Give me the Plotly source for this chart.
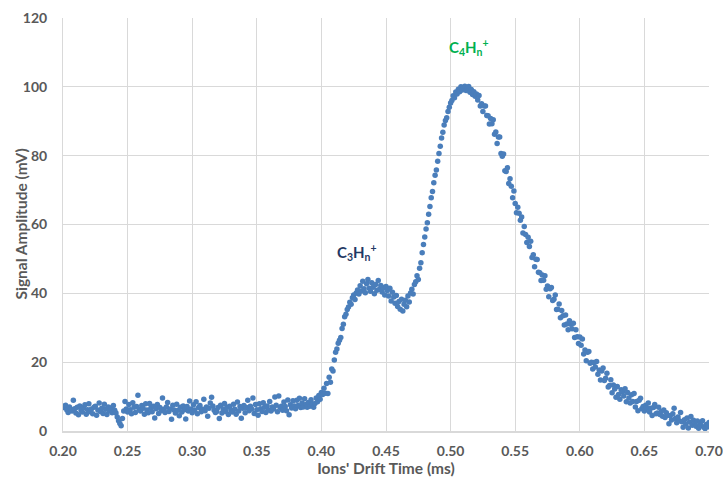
import numpy as np
import plotly.graph_objects as go

# Sampling grid (ms)
T_START = 0.200
T_STEP = 0.001

# Signal amplitude (mV) at 0.200, 0.201, ... 0.700 ms
signal_mv = [
    7.2, 6.8, 7.5, 6.1, 5.4, 7.0, 6.3, 5.8, 8.9, 6.5,
    5.2, 6.9, 4.7, 7.3, 6.0, 5.5, 6.8, 7.6, 4.9, 6.2,
    7.9, 5.6, 6.4, 5.0, 6.9, 7.2, 4.6, 6.1, 8.1, 5.7,
    6.6, 5.1, 7.8, 6.3, 4.8, 7.0, 5.9, 6.7, 5.3, 7.4,
    6.0, 5.2, 4.1, 3.0, 2.2, 1.5, 3.6, 5.8, 8.6, 6.4,
    5.5, 7.7, 6.2, 5.0, 8.2, 6.9, 5.4, 7.1, 10.4, 6.3,
    5.8, 7.4, 6.6, 4.9, 7.9, 6.1, 5.3, 8.0, 6.7, 5.6,
    7.2, 3.8, 6.5, 7.7, 5.1, 6.8, 5.9, 9.6, 6.3, 5.4,
    7.0, 8.3, 5.7, 6.4, 3.4, 7.5, 6.1, 5.2, 7.8, 6.0,
    4.4, 6.9, 5.5, 7.3, 6.2, 3.5, 7.1, 5.8, 8.7, 6.4,
    5.3, 7.6, 6.1, 8.5, 5.0, 6.8, 7.4, 5.6, 6.3, 9.2,
    5.9, 7.0, 4.3, 6.6, 8.1, 9.8, 7.3, 6.0, 5.4, 5.7,
    6.8, 3.6, 7.5, 5.2, 6.4, 8.0, 5.7, 6.9, 4.8, 7.2,
    6.1, 5.5, 7.8, 6.3, 4.9, 8.4, 5.8, 7.1, 3.7, 6.6,
    7.4, 5.3, 6.8, 8.9, 5.9, 7.2, 6.4, 9.6, 5.1, 7.7,
    6.2, 4.6, 7.9, 6.5, 5.7, 8.2, 6.9, 5.4, 7.3, 6.1,
    8.6, 5.8, 7.0, 6.4, 9.9, 7.5, 5.6, 10.2, 6.8, 7.2,
    6.0, 8.4, 7.1, 5.9, 9.0, 4.7, 7.6, 6.7, 8.8, 7.3,
    6.5, 8.9, 7.4, 9.5, 6.8, 8.1, 7.0, 9.4, 7.7, 6.9,
    8.3, 7.2, 9.1, 7.8, 6.9, 8.0, 9.6, 8.5, 10.3, 9.2,
    11.2, 10.6, 12.4, 11.0, 13.8, 10.9, 15.6, 14.2, 18.0, 17.4,
    20.6, 22.9, 23.8, 25.5, 26.4, 27.2, 29.8, 31.0, 33.2, 33.9,
    35.3, 36.0, 37.4, 36.8, 38.7, 39.5, 38.2, 40.1, 41.0, 39.8,
    42.2, 40.7, 43.5, 41.3, 40.2, 42.8, 44.0, 41.5, 40.6, 43.1,
    41.8, 39.9, 42.6, 40.9, 43.7, 41.2, 42.3, 40.4, 41.6, 39.5,
    42.0, 40.8, 39.2, 41.5, 37.8, 40.3, 38.9, 37.1, 39.4, 36.2,
    37.6, 35.4, 38.3, 34.9, 36.8, 38.0, 36.1, 39.2, 37.5, 40.1,
    41.2, 39.8, 42.6, 43.4, 45.1, 44.0, 47.3, 48.9, 51.8, 54.2,
    56.4, 58.7, 60.5, 63.0, 65.2, 67.8, 69.6, 72.1, 74.3, 75.8,
    78.4, 80.6, 82.7, 85.1, 86.8, 88.9, 90.2, 91.0, 92.8, 94.1,
    95.3, 96.0, 97.4, 96.8, 98.5, 97.9, 99.3, 98.6, 100.0, 99.1,
    99.8, 100.2, 98.9, 99.6, 100.1, 98.4, 99.2, 97.8, 98.6, 97.3,
    97.9, 96.2, 97.5, 94.4, 95.1, 92.8, 94.4, 94.4, 91.7, 91.6,
    89.2, 90.8, 89.3, 90.4, 86.2, 86.9, 83.5, 85.4, 85.4, 80.6,
    79.8, 80.5, 75.6, 75.4, 76.5, 71.9, 73.3, 71.1, 67.8, 69.7,
    66.1, 63.4, 65.0, 63.3, 61.2, 62.2, 57.5, 59.4, 57.1, 54.8,
    56.3, 53.6, 55.1, 50.4, 51.2, 47.7, 49.9, 49.8, 46.1, 46.0,
    43.7, 45.3, 43.8, 45.1, 41.2, 42.1, 39.0, 41.3, 41.7, 37.9,
    38.3, 39.5, 35.3, 35.4, 36.9, 32.9, 35.0, 33.5, 30.8, 33.7,
    31.1, 29.4, 32.0, 31.0, 29.7, 31.3, 27.2, 29.4, 27.4, 25.4,
    27.3, 24.9, 26.7, 22.4, 23.5, 20.4, 22.9, 23.1, 19.7, 20.0,
    18.0, 19.9, 18.6, 20.2, 16.5, 17.7, 14.8, 17.4, 18.3, 14.7,
    15.3, 16.8, 12.8, 13.2, 14.9, 11.1, 13.4, 12.2, 9.8, 12.9,
    10.6, 9.2, 12.0, 11.3, 10.2, 12.3, 8.5, 11.2, 9.6, 8.1,
    10.5, 8.6, 10.9, 7.0, 8.6, 5.9, 8.9, 9.5, 6.5, 7.1,
    5.8, 7.5, 6.6, 8.1, 5.5, 6.6, 4.5, 6.8, 7.7, 5.0,
    5.2, 6.9, 4.8, 5.7, 4.3, 6.1, 3.9, 5.3, 4.6, 2.1,
    4.4, 3.2, 5.0, 6.6, 3.6, 2.4, 4.1, 3.0, 5.4, 2.7,
    1.1, 3.3, 2.0, 3.8, 0.9, 2.6, 4.2, 1.7, 3.1, 2.3,
    1.4, 2.9, 0.8, 2.0, 1.6, 3.0, 1.1, 0.7, 1.9, 1.2,
    2.5,
]

drift_ms = np.round(T_START + T_STEP * np.arange(len(signal_mv)), 4)

x_ticks = [0.20, 0.25, 0.30, 0.35, 0.40, 0.45, 0.50, 0.55, 0.60, 0.65, 0.70]
y_ticks = [0, 20, 40, 60, 80, 100, 120]

# Peak labels: (x, y, text, colour)
peak_labels = [
    (0.4275, 52, "C<sub>3</sub>H<sub>n</sub><sup>+</sup>", "#1F3864"),
    (0.5145, 111.5, "C<sub>4</sub>H<sub>n</sub><sup style='font-size:7px'>+</sup>", "#00B050"),
]

FONT = "Lato"
GREY = "#595959"

fig = go.Figure()
fig.add_trace(go.Scatter(
    x=drift_ms, y=signal_mv, mode="markers",
    marker=dict(size=5.5, color="#4A7EBB", line=dict(width=0)),
    showlegend=False, hoverinfo="x+y",
))

for lx, ly, txt, col in peak_labels:
    fig.add_annotation(x=lx, y=ly, text=txt, showarrow=False,
                       font=dict(family=FONT, size=15, color=col, weight="bold"))

# Y-axis title placed as a rotated annotation left of the tick labels
fig.add_annotation(
    text="Signal Amplitude (mV)", xref="paper", yref="paper",
    x=-43 / 646, y=0.5, xanchor="center", yanchor="middle",
    textangle=-90, showarrow=False,
    font=dict(family=FONT, size=15.5, color=GREY, weight="bold"),
)

fig.update_layout(
    width=723, height=479,
    margin=dict(l=63, r=14, t=18, b=48, autoexpand=False),
    paper_bgcolor="white", plot_bgcolor="white",
    font=dict(family=FONT, color=GREY),
    xaxis=dict(
        range=[0.2, 0.7], tickvals=x_ticks, ticktext=[f"{v:.2f}" for v in x_ticks],
        showgrid=True, gridcolor="#D9D9D9", gridwidth=1,
        showline=True, linecolor="#D9D9D9", linewidth=2,
        zeroline=False, ticks="outside", ticklen=6, tickcolor="rgba(0,0,0,0)",
        automargin=False,
        tickfont=dict(family=FONT, size=14, color=GREY, weight="bold"),
        title=dict(text="Ions' Drift Time (ms)", standoff=2,
                   font=dict(family=FONT, size=15.5, color=GREY, weight="bold")),
    ),
    yaxis=dict(
        range=[0, 120], tickvals=y_ticks,
        showgrid=True, gridcolor="#D9D9D9", gridwidth=1,
        showline=True, linecolor="#D9D9D9", linewidth=1,
        zeroline=False, ticks="outside", ticklen=12, tickcolor="rgba(0,0,0,0)",
        automargin=False,
        tickfont=dict(family=FONT, size=14, color=GREY, weight="bold"),
    ),
)

fig.write_html("out.html")
